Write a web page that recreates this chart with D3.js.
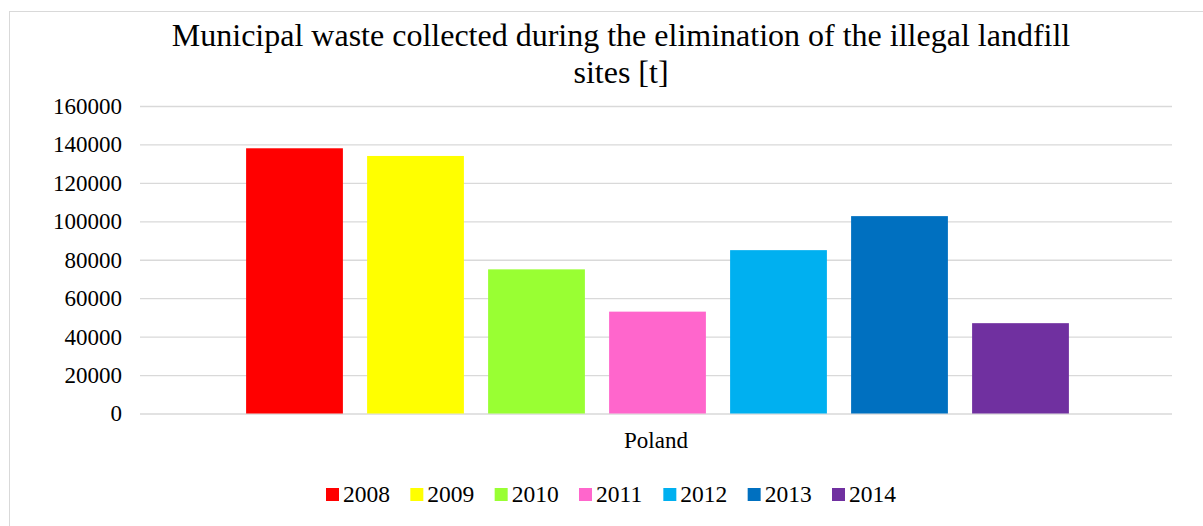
<!DOCTYPE html>
<html><head><meta charset="utf-8">
<script src="https://cdn.jsdelivr.net/npm/d3@7"></script>
<style>body{margin:0;background:#fff;}svg text{font-family:"Liberation Serif","Times New Roman",serif !important;}</style>
</head><body>
<svg id="c" width="1203" height="526"></svg>
<script>
const categories = ["Poland"];
const years = ["2008","2009","2010","2011","2012","2013","2014"];
const values = [138000, 134000, 75000, 53000, 85000, 102700, 47000];
const colors = ["#FF0000","#FFFF00","#99FF33","#FF66CC","#00B0F0","#0070C0","#7030A0"];
const yTicks = [0,20000,40000,60000,80000,100000,120000,140000,160000];
const titleLines = ["Municipal waste collected during the elimination of the illegal landfill","sites [t]"];
const FONT = "'Liberation Serif','Times New Roman',serif";

const svg = d3.select("#c");
svg.append("rect").attr("x",9.5).attr("y",11.5).attr("width",1210).attr("height",530)
  .attr("fill","#fff").attr("stroke","#d9d9d9");

const L=140,R=1172,T=106,B=413.5;
const y = d3.scaleLinear().domain([0,160000]).range([B,T]);
const x0 = d3.scaleBand().domain(categories).range([L,R]);
const x1 = d3.scaleBand().domain(years).range([x0("Poland")+94, x0("Poland")+x0.bandwidth()-91]).paddingInner(0.2).paddingOuter(0.1);

const yAxis = d3.axisLeft(y).tickValues(yTicks).tickSize(-(R-L)).tickPadding(18).tickFormat(d=>String(d));
const gy = svg.append("g").attr("transform",`translate(${L},0)`).call(yAxis);
gy.select(".domain").remove();
gy.selectAll(".tick line").attr("stroke","#d9d9d9").attr("stroke-width",1.3);
gy.selectAll(".tick text").style("font-size","23px").style("font-family",FONT).attr("fill","#000");

svg.append("g").selectAll("rect").data(years).join("rect")
  .attr("x",d=>x1(d)).attr("width",x1.bandwidth())
  .attr("y",(d,i)=>y(values[i])).attr("height",(d,i)=>B-y(values[i]))
  .attr("fill",(d,i)=>colors[i]);

const xAxis = d3.axisBottom(x0).tickSize(0).tickPadding(18);
const gx = svg.append("g").attr("transform",`translate(0,${B})`).call(xAxis);
gx.select(".domain").remove();
gx.selectAll(".tick text").style("font-size","23px").style("font-family",FONT).attr("fill","#000");

svg.append("g").selectAll("text").data(titleLines).join("text")
  .attr("x",621).attr("y",(d,i)=>46+i*37).attr("text-anchor","middle")
  .style("font-size","32px").style("font-family",FONT).attr("fill","#000").text(d=>d);

// legend
const lx = d3.scalePoint().domain(years).range([326, 832]);
const lg = svg.append("g").attr("transform","translate(0,488)");
const items = lg.selectAll("g").data(years).join("g").attr("transform",d=>`translate(${lx(d)},0)`);
items.append("rect").attr("x",0).attr("y",0).attr("width",13).attr("height",13).attr("fill",(d,i)=>colors[i]);
items.append("text").attr("x",17).attr("y",13.5).style("font-size","23.5px").style("font-family",FONT).attr("fill","#000").text(d=>d);
</script>
</body></html>
